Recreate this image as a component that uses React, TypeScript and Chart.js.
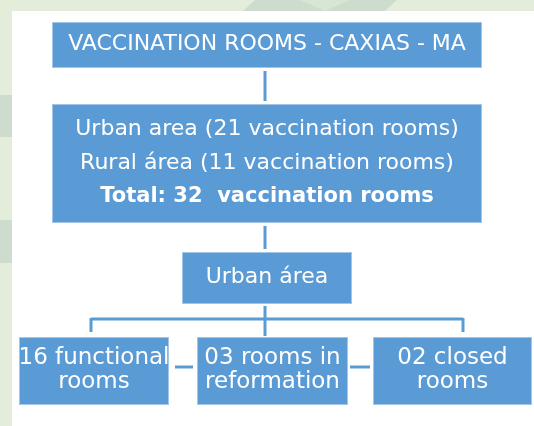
import { useEffect, useRef } from "react";
import { Chart, registerables } from "chart.js";

Chart.register(...registerables);

// ---- content ----
const titleLines = ["VACCINATION ROOMS - CAXIAS - MA"];
const summaryLines = [
  "Urban area (21 vaccination rooms)",
  "Rural área (11 vaccination rooms)",
  "Total: 32  vaccination rooms",
];
const urbanLines = ["Urban área"];
const leafTitles = [
  ["16 functional", "rooms"],
  ["03 rooms in", "reformation"],
  ["02 closed", "rooms"],
];

// ---- layout (in scale units: x 0..534, y 0..426 downward) ----
type Node = {
  lines: string[];
  box: [number, number, number, number];
  bold?: number[];
  size: number;
  boldSize?: number;
  pitch: number;
};
const nodes: Node[] = [
  { lines: titleLines, box: [52, 22, 482, 68], size: 22, pitch: 24 },
  { lines: summaryLines, box: [52, 104, 482, 223], size: 22, boldSize: 21, pitch: 33.3, bold: [2] },
  { lines: urbanLines, box: [182, 252, 352, 304], size: 22, pitch: 24 },
  { lines: leafTitles[0], box: [19, 337, 169, 405], size: 23, pitch: 24 },
  { lines: leafTitles[1], box: [197, 337, 348, 405], size: 23, pitch: 24 },
  { lines: leafTitles[2], box: [373, 337, 532, 405], size: 23, pitch: 24 },
];
const connectors: [number, number, number, number][] = [
  [265, 71, 265, 101],
  [265, 226, 265, 249],
  [265, 306, 265, 336],
  [91, 319, 463, 319],
  [91, 318, 91, 332],
  [463, 318, 463, 332],
  [175, 367, 193, 367],
  [350, 367, 370, 367],
];

const FONT = '"DejaVu Sans", sans-serif';
const BLUE = "#5b9bd5";

const backdrop = {
  id: "backdrop",
  beforeDraw(chart: any) {
    const { ctx, scales } = chart;
    const X = (v: number) => scales.x.getPixelForValue(v);
    const Y = (v: number) => scales.y.getPixelForValue(v);
    ctx.save();
    ctx.fillStyle = "#e3edda";
    ctx.fillRect(X(0), Y(0), X(534) - X(0), Y(426) - Y(0));
    // faint darker bands
    ctx.fillStyle = "#cddccd";
    ctx.fillRect(X(0), Y(95), X(12) - X(0), Y(137) - Y(95));
    ctx.fillRect(X(0), Y(220), X(12) - X(0), Y(263) - Y(220));
    ctx.beginPath();
    ctx.moveTo(X(243), Y(11));
    ctx.lineTo(X(255), Y(0));
    ctx.lineTo(X(397), Y(0));
    ctx.lineTo(X(385), Y(11));
    ctx.closePath();
    ctx.fill();
    ctx.fillStyle = "#d8e6d6";
    ctx.beginPath();
    ctx.moveTo(X(300), Y(0));
    ctx.lineTo(X(350), Y(0));
    ctx.lineTo(X(325), Y(11));
    ctx.closePath();
    ctx.fill();
    // white panel
    ctx.fillStyle = "#ffffff";
    ctx.fillRect(X(12), Y(11), X(534) - X(12), Y(426) - Y(11));
    ctx.restore();
  },
  afterDatasetsDraw(chart: any) {
    const { ctx, scales } = chart;
    const X = (v: number) => scales.x.getPixelForValue(v);
    const Y = (v: number) => scales.y.getPixelForValue(v);
    ctx.save();
    for (const n of nodes) {
      const [x0, y0, x1, y1] = n.box;
      ctx.fillStyle = BLUE;
      ctx.fillRect(X(x0), Y(y0), X(x1) - X(x0), Y(y1) - Y(y0));
      ctx.strokeStyle = "#a3c5e8";
      ctx.lineWidth = 1;
      ctx.strokeRect(X(x0) + 0.5, Y(y0) + 0.5, X(x1) - X(x0) - 1, Y(y1) - Y(y0) - 1);
      ctx.fillStyle = "#ffffff";
      ctx.textAlign = "center";
      ctx.textBaseline = "alphabetic";
      const cx = (X(x0) + X(x1)) / 2;
      const cy = (Y(y0) + Y(y1)) / 2 - 3;
      const k = n.lines.length;
      n.lines.forEach((t, i) => {
        const bold = n.bold && n.bold.includes(i);
        const size = bold && n.boldSize ? n.boldSize : n.size;
        ctx.font = `${bold ? "bold " : ""}${size}px ${FONT}`;
        const capCenter = cy + (i - (k - 1) / 2) * n.pitch;
        ctx.fillText(t, cx, capCenter + 0.365 * n.size);
      });
    }
    ctx.restore();
  },
};

export default function App() {
  const ref = useRef<HTMLCanvasElement | null>(null);
  useEffect(() => {
    document.body.style.margin = "0";
    const datasets = connectors.map(([ax, ay, bx, by]) => ({
      data: [
        { x: ax, y: ay },
        { x: bx, y: by },
      ],
      showLine: true,
      borderColor: BLUE,
      borderWidth: 3,
      pointRadius: 0,
      fill: false,
    }));
    const chart = new Chart(ref.current as HTMLCanvasElement, {
      type: "scatter",
      data: { datasets },
      options: {
        animation: false,
        responsive: false,
        layout: { padding: 0 },
        plugins: { legend: { display: false }, tooltip: { enabled: false } },
        scales: {
          x: { type: "linear", min: 0, max: 534, display: false },
          y: { type: "linear", min: 0, max: 426, reverse: true, display: false },
        },
      },
      plugins: [backdrop],
    });
    return () => chart.destroy();
  }, []);
  return <canvas ref={ref} width={534} height={426} style={{ display: "block" }} />;
}
